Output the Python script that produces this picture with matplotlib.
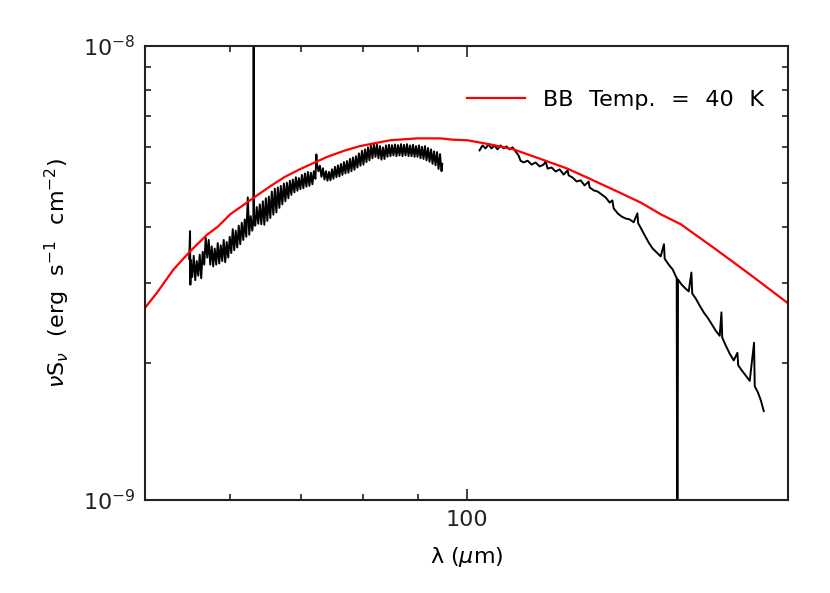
import matplotlib
matplotlib.use("Agg")
import matplotlib.pyplot as plt
from matplotlib.ticker import NullFormatter, LogLocator, FuncFormatter, FixedLocator

plt.rcParams['font.family'] = ['DejaVu Sans']
plt.rcParams['mathtext.fontset'] = 'dejavusans'

# spectrum, short-wavelength part (wavelength in micron, nuSnu in 1e-9 erg/s/cm2)
wave_short = [55.00, 55.10, 55.14, 55.18, 55.36, 55.54, 55.72, 55.90, 56.08, 56.26,
              56.44, 56.62, 56.81, 56.99, 57.18, 57.36, 57.55, 57.73, 57.92, 58.11,
              58.30, 58.49, 58.68, 58.87, 59.06, 59.25, 59.44, 59.63, 59.83, 60.02,
              60.22, 60.41, 60.61, 60.80, 61.00, 61.20, 61.40, 61.60, 61.80, 62.00,
              62.20, 62.40, 62.60, 62.80, 63.01, 63.19, 63.20, 63.21, 63.42, 63.62,
              63.83, 64.04, 64.25, 64.46, 64.67, 64.88, 65.09, 65.30, 65.51, 65.72,
              65.94, 66.15, 66.37, 66.58, 66.80, 67.01, 67.23, 67.45, 67.67, 67.89,
              68.11, 68.33, 68.55, 68.77, 69.00, 69.22, 69.45, 69.67, 69.90, 70.12,
              70.35, 70.58, 70.81, 71.04, 71.27, 71.50, 71.73, 71.96, 72.20, 72.35,
              72.43, 72.67, 72.90, 73.14, 73.38, 73.62, 73.86, 74.10, 74.34, 74.58,
              74.82, 75.06, 75.30, 75.55, 75.79, 76.04, 76.28, 76.53, 76.78, 77.03,
              77.28, 77.53, 77.78, 78.03, 78.28, 78.54, 78.79, 79.05, 79.30, 79.56,
              79.82, 80.08, 80.34, 80.60, 80.86, 81.12, 81.38, 81.65, 81.91, 82.18,
              82.44, 82.71, 82.98, 83.25, 83.52, 83.79, 84.06, 84.33, 84.60, 84.88,
              85.15, 85.43, 85.71, 85.99, 86.27, 86.55, 86.83, 87.11, 87.39, 87.68,
              87.96, 88.25, 88.53, 88.82, 89.11, 89.40, 89.69, 89.98, 90.27, 90.56,
              90.85, 91.15, 91.44, 91.74, 92.04, 92.34, 92.64, 92.94, 93.24, 93.54,
              93.84, 94.15, 94.45, 94.76, 94.90]
flux_short = [3.40, 3.91, 2.98, 3.38, 3.10, 3.45, 3.05, 3.36, 3.12, 3.47,
              3.08, 3.52, 3.30, 3.78, 3.42, 3.74, 3.30, 3.62, 3.27, 3.58,
              3.30, 3.68, 3.32, 3.64, 3.36, 3.74, 3.34, 3.70, 3.42, 3.80,
              3.50, 3.95, 3.55, 3.92, 3.60, 4.02, 3.66, 4.08, 3.74, 4.15,
              3.80, 4.64, 3.84, 4.22, 3.92, 4.15, 13.0, 4.10, 4.02, 4.42,
              4.06, 4.48, 4.05, 4.55, 4.04, 4.62, 4.12, 4.66, 4.18, 4.78,
              4.25, 4.85, 4.30, 4.88, 4.40, 4.92, 4.48, 4.98, 4.55, 5.00,
              4.62, 5.05, 4.70, 5.08, 4.76, 5.14, 4.80, 5.12, 4.84, 5.20,
              4.86, 5.24, 4.90, 5.28, 4.92, 5.26, 4.96, 5.30, 5.10, 5.77,
              5.50, 5.30, 5.45, 5.15, 5.38, 5.08, 5.30, 5.05, 5.28, 5.06,
              5.35, 5.10, 5.42, 5.14, 5.46, 5.16, 5.50, 5.20, 5.55, 5.24,
              5.58, 5.26, 5.64, 5.30, 5.68, 5.34, 5.72, 5.40, 5.80, 5.45,
              5.88, 5.48, 5.92, 5.55, 5.98, 5.60, 6.04, 5.66, 6.08, 5.70,
              6.06, 5.66, 6.02, 5.62, 5.98, 5.64, 6.04, 5.70, 6.06, 5.72,
              6.05, 5.74, 6.07, 5.72, 6.05, 5.74, 6.08, 5.72, 6.06, 5.74,
              6.08, 5.72, 6.04, 5.72, 6.06, 5.70, 6.02, 5.70, 6.04, 5.66,
              6.00, 5.64, 6.02, 5.60, 5.96, 5.56, 5.92, 5.50, 5.86, 5.46,
              5.84, 5.36, 5.78, 5.30, 5.50]

# spectrum, long-wavelength part
wave_long = [102.85, 103.51, 104.19, 104.86, 105.54, 106.23, 106.92, 107.61, 108.31, 109.01,
             109.71, 110.44, 111.16, 111.87, 112.36, 113.09, 114.07, 115.06, 116.06, 117.07,
             118.08, 118.59, 119.11, 120.14, 121.18, 122.23, 123.29, 124.36, 124.63, 125.71,
             126.80, 127.90, 129.01, 130.12, 130.41, 131.54, 132.68, 133.83, 134.99, 136.16,
             136.95, 137.34, 138.53, 139.73, 140.94, 142.16, 143.39, 144.54, 144.79, 145.57,
             146.83, 148.11, 149.39, 150.68, 151.99, 153.07, 153.31, 154.64, 155.98, 157.33,
             157.57, 157.77, 159.04, 160.42, 161.46, 162.40, 162.68, 163.91, 165.33, 166.77,
             168.21, 169.67, 171.14, 172.62, 173.26, 173.56, 174.87, 176.39, 177.92, 179.34,
             179.65, 181.01, 182.58, 184.16, 185.88, 186.16, 187.37, 188.59, 189.40, 189.81]
flux_long = [5.89, 6.04, 5.95, 6.07, 5.95, 6.04, 5.92, 6.04, 5.95, 6.01,
             5.92, 5.98, 5.86, 5.74, 5.59, 5.54, 5.59, 5.48, 5.54, 5.43,
             5.48, 5.57, 5.37, 5.40, 5.29, 5.35, 5.21, 5.32, 5.19, 5.13,
             5.03, 5.06, 4.93, 5.03, 4.88, 4.81, 4.78, 4.71, 4.64, 4.52,
             4.57, 4.39, 4.28, 4.21, 4.17, 4.15, 4.09, 4.28, 4.07, 3.98,
             3.83, 3.69, 3.58, 3.51, 3.44, 3.66, 3.40, 3.30, 3.22, 3.08,
             0.50, 3.06, 2.98, 2.92, 2.88, 3.17, 2.85, 2.78, 2.68, 2.59,
             2.52, 2.44, 2.36, 2.30, 2.59, 2.28, 2.19, 2.10, 2.03, 2.11,
             1.98, 1.93, 1.88, 1.83, 2.22, 1.78, 1.73, 1.66, 1.60, 1.57]

# blackbody curve (T = 40 K)
bb_wave = [50.0, 51.3, 53.17, 55.11, 57.15, 58.5, 60.09, 63.19, 65.5, 67.6,
           69.9, 74.05, 77.0, 79.5, 84.8, 89.9, 94.5, 97.0, 100.2, 105.3,
           110.7, 117.3, 124.3, 130.7, 137.4, 145.6, 152.0, 158.7, 170.5, 178.1,
           185.9, 199.7]
bb_flux = [2.65, 2.86, 3.22, 3.53, 3.84, 4.00, 4.26, 4.63, 4.91, 5.15,
           5.36, 5.70, 5.89, 6.02, 6.20, 6.26, 6.26, 6.22, 6.20, 6.07,
           5.92, 5.64, 5.37, 5.09, 4.82, 4.52, 4.26, 4.05, 3.59, 3.33,
           3.09, 2.72]

scale = 1e-9
gap = '\u2002\u2009'

fig = plt.figure(figsize=(8.3, 5.93), dpi=100)
ax = fig.add_axes([0.1747, 0.1568, 0.7747, 0.7656])

ax.plot(wave_short, [f * scale for f in flux_short], color='black', lw=1.4)
ax.plot(wave_long, [f * scale for f in flux_long], color='black', lw=1.4)
ax.plot(bb_wave, [f * scale for f in bb_flux], color='red', lw=1.6,
        label='BB' + gap + 'Temp.' + gap + '=' + gap + '40' + gap + 'K')

ax.set_xscale('log')
ax.set_yscale('log')
ax.set_xlim(50, 200)
ax.set_ylim(1e-9, 1e-8)

ax.xaxis.set_major_locator(FixedLocator([100]))
ax.xaxis.set_minor_locator(LogLocator(base=10, subs=range(2, 10)))
ax.yaxis.set_minor_locator(LogLocator(base=10, subs=range(2, 10)))
ax.xaxis.set_major_formatter(FuncFormatter(lambda v, p: '%d' % round(v)))
ax.xaxis.set_minor_formatter(NullFormatter())
ax.yaxis.set_minor_formatter(NullFormatter())

ax.tick_params(which='both', direction='in', top=True, right=True,
               labelsize=16, width=1.2, colors='#222222')
ax.tick_params(which='major', length=8, pad=7)
ax.tick_params(which='minor', length=4.5)
for s in ax.spines.values():
    s.set_linewidth(1.5)
    s.set_color('#222222')

ax.set_xlabel(r'λ ($\mu$m)', fontsize=16, labelpad=11)
ax.set_ylabel(r'$\nu$S$_\nu$' + gap + '(erg' + gap + r's$^{-1}$' + gap + r'cm$^{-2}$)',
              fontsize=16, labelpad=8)

leg = ax.legend(loc='upper right', bbox_to_anchor=(0.962, 0.903), frameon=False,
                fontsize=16, handlelength=2.6, handletextpad=0.8,
                borderpad=0, borderaxespad=0)

fig.savefig('out.png', dpi=100)
